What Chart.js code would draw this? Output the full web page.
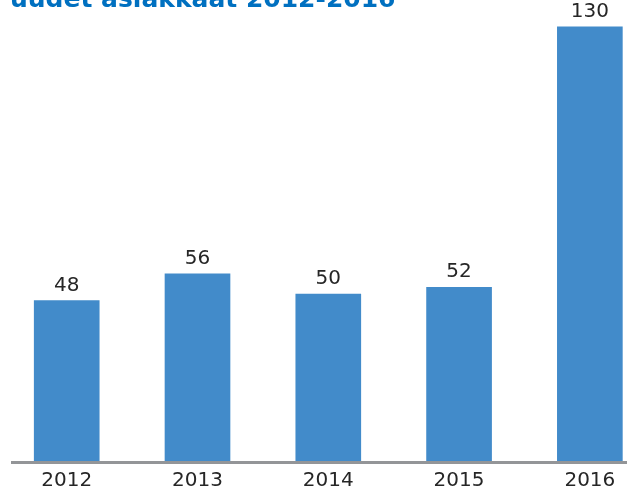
<!DOCTYPE html>
<html>
<head>
<meta charset="utf-8">
<script src="https://cdn.jsdelivr.net/npm/chart.js@4"></script>
<style>
    html, body { margin: 0; padding: 0; background: #fff; overflow: hidden; }
    #wrap { position: relative; width: 627px; height: 491px; }
</style>
</head>
<body>
<div id="wrap"><canvas id="customersChart"></canvas></div>
<script>
// New customers per year
const years = ['2012', '2013', '2014', '2015', '2016'];
const newCustomers = [48, 56, 50, 52, 130];
const chartTitle = 'uudet asiakkaat 2012-2016';

const FONT = '"DejaVu Sans", Verdana, sans-serif';
const TEXT_COLOR = '#262626';
const BAR_COLOR = '#428bca';
const AXIS_COLOR = '#939598';

// Title sits at the very top edge, partly above the canvas
const titlePlugin = {
    id: 'topTitle',
    afterDraw(chart) {
        const ctx = chart.ctx;
        ctx.save();
        ctx.font = 'bold 25px ' + FONT;
        ctx.fillStyle = '#0070c0';
        ctx.textAlign = 'left';
        ctx.textBaseline = 'alphabetic';
        ctx.fillText(chartTitle, 10, 7);
        ctx.restore();
    }
};

// Thick grey baseline under the bars
const baselinePlugin = {
    id: 'baseline',
    afterDatasetsDraw(chart) {
        const { ctx, chartArea } = chart;
        ctx.save();
        ctx.strokeStyle = AXIS_COLOR;
        ctx.lineWidth = 3;
        ctx.beginPath();
        ctx.moveTo(chartArea.left, chartArea.bottom + 1.5);
        ctx.lineTo(chartArea.right, chartArea.bottom + 1.5);
        ctx.stroke();
        ctx.restore();
    }
};

// Value labels above each bar
const valueLabelPlugin = {
    id: 'valueLabels',
    afterDatasetsDraw(chart) {
        const ctx = chart.ctx;
        const meta = chart.getDatasetMeta(0);
        ctx.save();
        ctx.font = '20px ' + FONT;
        ctx.fillStyle = TEXT_COLOR;
        ctx.textAlign = 'center';
        ctx.textBaseline = 'alphabetic';
        meta.data.forEach((bar, i) => {
            ctx.fillText(String(newCustomers[i]), bar.x, bar.y - 10);
        });
        ctx.restore();
    }
};

new Chart(document.getElementById('customersChart'), {
    type: 'bar',
    data: {
        datasets: [{
            data: newCustomers.map((v, i) => ({ x: i, y: v })),
            backgroundColor: BAR_COLOR,
            borderWidth: 0,
            barThickness: 65
        }]
    },
    options: {
        responsive: true,
        maintainAspectRatio: false,
        animation: false,
        layout: {
            padding: { left: 11, right: 0, top: 0, bottom: 0 }
        },
        plugins: {
            legend: { display: false },
            tooltip: { enabled: false }
        },
        scales: {
            x: {
                type: 'linear',
                offset: false,
                min: -0.426,
                max: 4.284,
                grid: { display: false, drawTicks: false },
                border: { display: false },
                afterBuildTicks: (axis) => {
                    axis.ticks = years.map((_, i) => ({ value: i }));
                },
                afterFit: (axis) => {
                    axis.height = 30;
                },
                ticks: {
                    autoSkip: false,
                    maxRotation: 0,
                    padding: 8,
                    color: TEXT_COLOR,
                    font: { family: FONT, size: 20 },
                    callback: (value) => years[value]
                }
            },
            y: {
                display: false,
                min: 0,
                max: 138
            }
        }
    },
    plugins: [titlePlugin, baselinePlugin, valueLabelPlugin]
});
</script>
</body>
</html>
